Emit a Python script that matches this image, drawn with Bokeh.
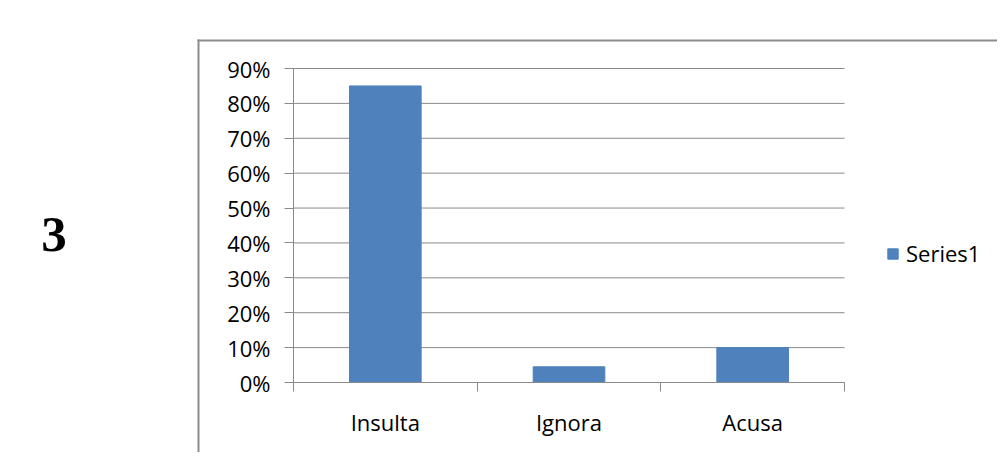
from bokeh.plotting import figure
from bokeh.models import (Range1d, FixedTicker, Legend, LegendItem,
                          PrintfTickFormatter, ColumnDataSource)
from bokeh.core.properties import value
from bokeh.embed import file_html
from bokeh.resources import INLINE

categories = ["Insulta", "Ignora", "Acusa"]
values = [85, 4.5, 10]
y_ticks = [0, 10, 20, 30, 40, 50, 60, 70, 80, 90]
series_name = "Series1"
slide_number = "3"

BAR = "#4f81bd"
GRID = "#8a8a8a"
BORDER = "#8c8c8c"
FONT = "Open Sans"

# canvas and plot-area geometry (pixels)
W, H = 997, 452
PL, PR, PT, PB = 293, 844, 68, 382
n = len(categories)
ymax = y_ticks[-1]
kx = n / (PR - PL)
ky = ymax / (PB - PT)

p = figure(width=W, height=H, output_backend="svg", toolbar_location=None,
           x_range=Range1d(-PL * kx, (W - PL) * kx),
           y_range=Range1d(-(H - PB) * ky, ymax + PT * ky),
           min_border=0)
p.extra_x_ranges = {"px": Range1d(0, W)}
p.extra_y_ranges = {"px": Range1d(H, 0)}
p.outline_line_color = None
p.xgrid.visible = False
p.ygrid.visible = False

# chart-object frame (left and top edges; the rest lies outside the picture)
p.quad(left=[197], right=[199], top=[39], bottom=[H], fill_color=BORDER,
       line_color=None, x_range_name="px", y_range_name="px")
p.quad(left=[197], right=[W], top=[39], bottom=[41], fill_color=BORDER,
       line_color=None, x_range_name="px", y_range_name="px")

# slide number
p.text(x=[53.5], y=[234], text=[slide_number], text_font=value("Liberation Serif"),
       text_font_style="bold", text_font_size="51px", text_align="center",
       text_baseline="middle", text_color="black",
       x_range_name="px", y_range_name="px")

# horizontal gridlines over the plot area
p.segment(x0=[0] * len(y_ticks), x1=[n] * len(y_ticks), y0=y_ticks, y1=y_ticks,
          line_color=GRID, line_width=1)

xs = [i + 0.5 for i in range(n)]
src = ColumnDataSource(dict(x=xs, top=values, cat=categories))
r = p.vbar(x="x", top="top", width=0.39, source=src, fill_color=BAR, line_color=BAR)

ya = p.yaxis[0]
ya.fixed_location = 0
ya.bounds = (0, ymax)
ya.ticker = FixedTicker(ticks=y_ticks)
ya.formatter = PrintfTickFormatter(format="%d%%")
ya.axis_line_color = GRID
ya.major_tick_line_color = GRID
ya.major_tick_out = 9
ya.major_tick_in = 0
ya.minor_tick_line_color = None
ya.major_label_standoff = 14
ya.major_label_text_font = FONT
ya.major_label_text_font_size = "22px"
ya.major_label_text_color = "black"

xa = p.xaxis[0]
xa.fixed_location = 0
xa.bounds = (0, n)
xa.ticker = FixedTicker(ticks=xs, minor_ticks=list(range(n + 1)))
xa.major_label_overrides = {x: c for x, c in zip(xs, categories)}
xa.axis_line_color = GRID
xa.major_tick_line_color = None
xa.major_tick_out = 0
xa.major_tick_in = 0
xa.minor_tick_line_color = GRID
xa.minor_tick_out = 9
xa.minor_tick_in = 0
xa.major_label_standoff = 15
xa.major_label_text_font = FONT
xa.major_label_text_font_size = "22px"
xa.major_label_text_color = "black"

legend = Legend(items=[LegendItem(label=series_name, renderers=[r])],
                location=(886, H - 254 - 14), padding=0, margin=0,
                border_line_color=None, background_fill_alpha=0,
                glyph_width=13, glyph_height=13, label_standoff=7,
                label_text_font=FONT, label_text_font_size="22px",
                label_text_color="black")
p.add_layout(legend, "center")

open("out.html", "w").write(file_html(p, INLINE))
